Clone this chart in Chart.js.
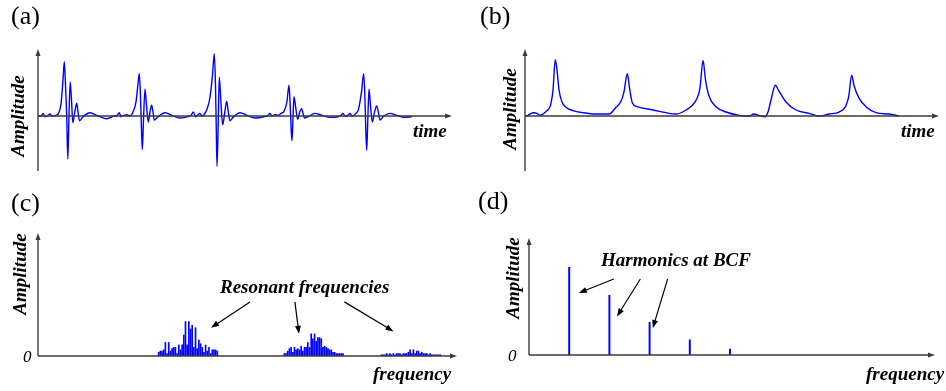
<!DOCTYPE html>
<html>
<head>
<meta charset="utf-8">
<script src="https://cdn.jsdelivr.net/npm/chart.js@4"></script>
<style>
  body { margin: 0; background: #fff; }
  #wrap { position: relative; width: 946px; height: 391px; overflow: hidden; background: #fff; }
  canvas { position: absolute; }
  .lbl { position: absolute; white-space: nowrap; line-height: 1; color: #000;
         font-family: "Liberation Serif", "Times New Roman", serif; }
  .ax { font-weight: bold; font-style: italic; font-size: 19px; }
  .it { font-style: italic; }
</style>
</head>
<body>
<div id="wrap">
  <canvas id="chartA" width="473" height="190" style="left:0;top:0"></canvas>
  <canvas id="chartB" width="470" height="190" style="left:476px;top:0"></canvas>
  <canvas id="chartC" width="473" height="201" style="left:0;top:190px"></canvas>
  <canvas id="chartD" width="470" height="201" style="left:476px;top:190px"></canvas>
</div>
<script>
//-----------------------------------------------------------------------------
// data (time in samples, amplitude normalised to axis top)
//-----------------------------------------------------------------------------
// (a) raw signal, five beats
const timeA = [0,3,5,7,10,12,14,18,20.5,23,25,26.3,27.5,28.7,29.8,31,32.2,33.5,34.8,36.8,38.7,40,41.5,45,52,59,68,76,79,81.3,83,86,89,92,
    95,98,100,101.3,102.6,103.5,104.3,105.5,107,108.5,110.3,112,113.7,115,116.3,120,127,134,142,150,153,155.3,157.5,160,162,164,166.5,
    169,172,174.5,176.3,177.5,178.2,179,180.2,181.3,182.8,184.7,186.8,188.7,190.3,192,195,202,209,217,226,230,232,234,237,240,243,
    246,249,251,252.2,253.2,254,255,256,257.7,259.7,261.7,263.7,265,266.5,270,277,284,292,300,303,305,307,310,312,314,318,
    320.5,323.5,325.7,327,327.8,328.7,329.8,331,332.5,334.3,336.5,338.7,340.3,342,345,352,359,366,373.7];
const ampA = [0,0,0.04,-0.01,0.01,0.03,0,0.01,0.04,0.18,0.54,0.81,0.46,0,-0.64,0,0.51,0.24,-0.10,0.06,0.19,0.06,-0.07,-0.01,0.05,0.01,-0.04,0,0.01,0.05,-0.01,0.01,0.02,0,
    0.06,0.21,0.48,0.63,0.24,-0.21,-0.50,-0.06,0.40,0.16,-0.09,0.06,0.16,0.06,-0.06,-0.01,0.05,0.01,-0.03,-0.01,0.01,0.06,-0.01,0.02,0.04,0,0.03,
    0.10,0.28,0.61,0.93,0.46,-0.13,-0.75,-0.13,0.58,0.24,-0.13,0.06,0.22,0.06,-0.07,-0.02,0.05,0.01,-0.03,-0.01,0.01,0.04,0,0.02,0.01,0.04,
    0.07,0.22,0.46,0.16,-0.21,-0.37,-0.03,0.29,0.13,-0.05,0.06,0.11,0.04,-0.03,-0.01,0.04,0.01,-0.02,-0.01,0.01,0.04,0,0.01,0.04,0,0.04,
    0.10,0.36,0.63,0.24,-0.21,-0.51,-0.06,0.40,0.16,-0.09,0.06,0.15,0.06,-0.06,-0.01,0.04,0.01,-0.02,-0.01];

// (b) envelope
const timeB = [0,3,6,9,12,15,18,22,25.5,28,30.3,32,34,37,41,48,58,71,84,91,96,99,102.3,104.5,107.5,112,128,144,151,161,
    170,175,178,180.5,184,191,201,214,224,229,234,240,243,246,250.3,254,261,271,284,294,304,314,320.5,323.7,326.7,329.3,334.3,341,351,364,374];
const ampB = [0,0.01,0.04,0.05,0.04,0.01,0.03,0.08,0.16,0.39,0.84,0.69,0.39,0.21,0.13,0.08,0.05,0.03,0.03,0.13,0.22,0.36,0.63,0.42,0.19,0.14,0.09,0.04,0.03,0.09,
    0.21,0.42,0.83,0.54,0.30,0.14,0.06,0.01,0,0.03,0.01,-0.01,0.06,0.24,0.46,0.37,0.21,0.09,0.04,0,0.03,0.06,0.14,0.29,0.61,0.44,0.26,0.14,0.05,0.03,0];

// (c) spectrum of raw signal: three resonant clusters (first bin of each + bin amplitudes)
const clusterStartC = [72, 147, 205];
const clusterC1 = [0.03,0.04,0.04,0.05,0.11,0.02,0.11,0.04,0.06,0.07,0.07,0.02,0.09,0.05,0.09,0.17,0.28,0.09,0.28,0.22,0.25,0.07,0.23,0.06,0.13,0.10,0.07,0.03,0.09,0.04,0.07,0.02,0.05,0.05,0.05,0.04];
const clusterC2 = [0.02,0.02,0.04,0.06,0.07,0.03,0.07,0.05,0.06,0.05,0.08,0.04,0.07,0.07,0.11,0.07,0.18,0.14,0.18,0.12,0.15,0.15,0.14,0.07,0.08,0.07,0.06,0.05,0.05,0.03,0.03,0.02,0.02,0.02,0.02,0.02];
const clusterC3 = [0.01,0.01,0.01,0.02,0.01,0.02,0.01,0.02,0.01,0.02,0.02,0.02,0.01,0.02,0.02,0.02,0.03,0.05,0.02,0.05,0.02,0.04,0.04,0.02,0.03,0.02,0.02,0.02,0.01,0.02,0.01,0.01,0.01,0.01,0.01,0.01];

// (d) spectrum of envelope: harmonics of the BCF
const harmonicsD = [1, 2, 3, 4, 5];
const ampD = [0.75, 0.51, 0.28, 0.13, 0.05];

// annotation arrows, in data units [x, y]
const arrowsC = [
    { from: [126.5, 0.44], to: [103.2, 0.23] },
    { from: [153.3, 0.44], to: [155.7, 0.18] },
    { from: [182.8, 0.44], to: [212.1, 0.20] }];
const arrowsD = [
    { from: [2.11, 0.65], to: [1.24, 0.53] },
    { from: [2.77, 0.65], to: [2.19, 0.33] },
    { from: [3.45, 0.65], to: [3.08, 0.23] }];

const blue = '#0000ff';
const axisColor = '#3c3c3c';

//-----------------------------------------------------------------------------
// drawing helpers
//-----------------------------------------------------------------------------
function arrowHead(ctx, x, y, angle, len, half){
    ctx.save();
    ctx.translate(x, y);
    ctx.rotate(angle);
    ctx.beginPath();
    ctx.moveTo(0, 0);
    ctx.lineTo(-len, -half);
    ctx.lineTo(-len, half);
    ctx.closePath();
    ctx.fill();
    ctx.restore();
}

// y axis up the left edge of the plot, x axis along amplitude 0, both with arrow tips
const axisArrows = {
    id: 'axisArrows',
    afterDatasetsDraw(chart){
        const { ctx, chartArea: area, scales } = chart;
        const y0 = scales.y.getPixelForValue(0);
        ctx.save();
        ctx.strokeStyle = axisColor;
        ctx.fillStyle = axisColor;
        ctx.lineWidth = 1.4;
        ctx.beginPath();
        ctx.moveTo(area.left, area.bottom);
        ctx.lineTo(area.left, area.top + 5);
        ctx.moveTo(area.left, y0);
        ctx.lineTo(area.right - 5, y0);
        ctx.stroke();
        arrowHead(ctx, area.left, area.top, -Math.PI / 2, 7, 2.5);
        arrowHead(ctx, area.right, y0, 0, 7, 2.5);
        ctx.restore();
    }
};

function pointerPlugin(items){
    return {
        id: 'pointers',
        afterDatasetsDraw(chart){
            const { ctx, scales } = chart;
            ctx.save();
            ctx.strokeStyle = '#000';
            ctx.fillStyle = '#000';
            ctx.lineWidth = 1.2;
            items.forEach(a => {
                const x1 = scales.x.getPixelForValue(a.from[0]);
                const y1 = scales.y.getPixelForValue(a.from[1]);
                const x2 = scales.x.getPixelForValue(a.to[0]);
                const y2 = scales.y.getPixelForValue(a.to[1]);
                const ang = Math.atan2(y2 - y1, x2 - x1);
                ctx.beginPath();
                ctx.moveTo(x1, y1);
                ctx.lineTo(x2 - 6 * Math.cos(ang), y2 - 6 * Math.sin(ang));
                ctx.stroke();
                arrowHead(ctx, x2, y2, ang, 8, 3);
            });
            ctx.restore();
        }
    };
}

function baseOptions(padding, xMin, xMax, yMin, yMax){
    return {
        responsive: false,
        animation: false,
        devicePixelRatio: 1,
        events: [],
        layout: { padding: padding },
        plugins: { legend: { display: false }, tooltip: { enabled: false } },
        scales: {
            x: { type: 'linear', display: false, min: xMin, max: xMax, offset: false },
            y: { type: 'linear', display: false, min: yMin, max: yMax }
        }
    };
}

function toPoints(xs, ys){
    return xs.map((x, i) => ({ x: x, y: ys[i] }));
}

//-----------------------------------------------------------------------------
// (a) and (b) time signals
//-----------------------------------------------------------------------------
function drawSignal(id, xs, ys, padding){
    new Chart(document.getElementById(id), {
        type: 'line',
        data: {
            datasets: [{
                data: toPoints(xs, ys),
                borderColor: blue,
                borderWidth: 1.4,
                pointRadius: 0,
                fill: false,
                cubicInterpolationMode: 'monotone'
            }]
        },
        options: baseOptions(padding, 0, 414, -0.82, 1),
        plugins: [axisArrows]
    });
}

drawSignal('chartA', timeA, ampA, { left: 38, right: 21, top: 49, bottom: 19 });
drawSignal('chartB', timeB, ampB, { left: 49, right: 7, top: 49, bottom: 19 });

//-----------------------------------------------------------------------------
// (c) resonant spectrum
//-----------------------------------------------------------------------------
const spectrumC = [];
[clusterC1, clusterC2, clusterC3].forEach((cluster, k) => {
    cluster.forEach((amp, i) => spectrumC.push({ x: clusterStartC[k] + i, y: amp }));
});

new Chart(document.getElementById('chartC'), {
    type: 'bar',
    data: { datasets: [{ data: spectrumC, backgroundColor: blue, barThickness: 1, borderWidth: 0 }] },
    options: baseOptions({ left: 38, right: 16, top: 43, bottom: 35 }, 0, 250, 0, 1),
    plugins: [axisArrows, pointerPlugin(arrowsC)]
});

//-----------------------------------------------------------------------------
// (d) harmonics at BCF
//-----------------------------------------------------------------------------
new Chart(document.getElementById('chartD'), {
    type: 'bar',
    data: { datasets: [{ data: toPoints(harmonicsD, ampD), backgroundColor: blue, barThickness: 1.3, borderWidth: 0 }] },
    options: baseOptions({ left: 53, right: 11, top: 48, bottom: 36 }, 0, 10.1, 0, 1),
    plugins: [axisArrows, pointerPlugin(arrowsD)]
});

//-----------------------------------------------------------------------------
// text: panel letters, axis names, annotations
//-----------------------------------------------------------------------------
const wrap = document.getElementById('wrap');
function addLabel(text, left, baseline, size, cls){
    const el = document.createElement('div');
    el.className = 'lbl ' + (cls || '');
    el.textContent = text;
    el.style.fontSize = size + 'px';
    el.style.left = left + 'px';
    el.style.top = (baseline - 0.8375 * size) + 'px';     // line-height 1 -> baseline offset
    wrap.appendChild(el);
}
function addVertical(text, cx, cy){
    const el = document.createElement('div');
    el.className = 'lbl ax';
    el.textContent = text;
    el.style.left = cx + 'px';
    el.style.top = cy + 'px';
    el.style.transform = 'translate(-50%, -50%) rotate(-90deg)';
    wrap.appendChild(el);
}

addLabel('(a)', 11, 25, 26);
addLabel('(b)', 480, 25, 26);
addLabel('(c)', 11, 212, 26);
addLabel('(d)', 478, 210, 26);

addVertical('Amplitude', 17, 116);
addVertical('Amplitude', 509, 109);
addVertical('Amplitude', 18.5, 274);
addVertical('Amplitude', 512, 278);

addLabel('time', 413, 137, 19, 'ax');
addLabel('time', 901, 137, 19, 'ax');
addLabel('frequency', 373, 380, 19, 'ax');
addLabel('frequency', 866, 380, 19, 'ax');
addLabel('Resonant frequencies', 220, 293, 19, 'ax');
addLabel('Harmonics at BCF', 601, 266, 19, 'ax');

addLabel('0', 23, 362, 17, 'it');
addLabel('0', 508, 361, 17, 'it');
</script>
</body>
</html>
